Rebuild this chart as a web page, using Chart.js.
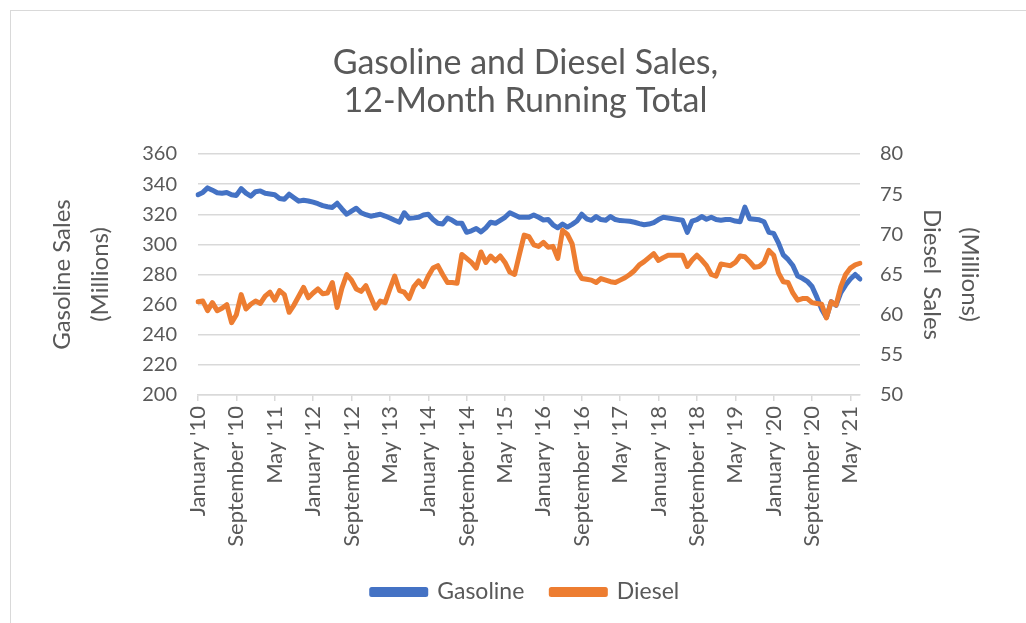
<!DOCTYPE html>
<html>
<head>
<meta charset="utf-8">
<script src="https://cdn.jsdelivr.net/npm/chart.js@4.4.1/dist/chart.umd.min.js"></script>
<style>
  body { margin: 0; background: #fff; }
  #wrap { position: relative; width: 1026px; height: 623px; }
</style>
</head>
<body>
<div id="wrap"><canvas id="salesChart"></canvas></div>
<script>
// months from January 2010 to July 2021
const monthNames = ['January', 'February', 'March', 'April', 'May', 'June', 'July',
    'August', 'September', 'October', 'November', 'December'];
const startYear = 2010;
const monthCount = 139;

const categories = [];
for (let i = 0; i < monthCount; i++) {
    const m = monthNames[i % 12];
    const yy = String(startYear + Math.floor(i / 12)).slice(2);
    categories.push(`${m} '${yy}`);
}

// Gasoline sales, millions (left axis)
const gasoline = [
    333, 334.5, 337.5, 336, 334.3, 334, 334.5, 333, 332.5, 337,
    334, 332, 335, 335.5, 334, 333.5, 333, 330.5, 330, 333.3,
    331, 328.7, 329.3, 328.8, 328, 327, 325.7, 325, 324.5, 327.3,
    323.5, 320, 322, 324, 321, 319.7, 318.7, 319.3, 320, 318.8,
    317.5, 316, 314.7, 321, 317.3, 317.6, 318, 319.5, 320, 316.5,
    314, 313.5, 317.5, 316, 314, 314, 308, 309, 310.5, 308.3,
    311, 314.7, 314, 316, 318, 321, 319.5, 318, 318, 318,
    319.5, 318, 316.2, 316.5, 313, 311, 313.5, 311.5, 313.3, 315.5,
    320, 317, 316, 318.5, 316.5, 316, 318.5, 316.5, 315.8, 315.6,
    315.3, 314.7, 313.8, 313, 313.5, 314.5, 316.5, 318, 317.5, 317,
    316.5, 316, 308, 315.5, 316.5, 318.5, 316.7, 318, 316.5, 316,
    316.5, 316.5, 315.5, 315, 324.7, 317, 316.7, 316.3, 315, 308,
    307.3, 301, 293, 290, 286, 279, 277.5, 275.5, 272, 265,
    257, 251.5, 262, 259.5, 268, 273, 277, 280, 277
];

// Diesel sales, millions (right axis)
const diesel = [
    61.6, 61.7, 60.5, 61.5, 60.5, 60.8, 61.25, 59, 60, 62.5,
    60.7, 61.3, 61.7, 61.4, 62.3, 62.8, 61.8, 63, 62.5, 60.3,
    61.2, 62.3, 63.4, 62.1, 62.7, 63.2, 62.6, 62.7, 64, 60.9,
    63.3, 65, 64.3, 63.2, 62.9, 63.6, 62.2, 60.8, 61.7, 61.5,
    63.2, 64.8, 63, 62.8, 62, 63.5, 64.2, 63.5, 64.8, 65.8,
    66.1, 65, 64, 64, 63.9, 67.5, 67, 66.5, 65.8, 67.8,
    66.5, 67.3, 66.7, 67.3, 66.5, 65.3, 65, 67.5, 69.9, 69.7,
    68.7, 68.5, 69, 68.4, 68.5, 67, 70.5, 70, 68.8, 65.5,
    64.5, 64.4, 64.3, 64, 64.5, 64.3, 64.1, 64, 64.3, 64.6,
    65, 65.5, 66.2, 66.6, 67.1, 67.6, 66.75, 67.1, 67.4, 67.4,
    67.4, 67.4, 66, 66.8, 67.4, 66.8, 66.1, 65, 64.8, 66.3,
    66.2, 66.1, 66.5, 67.3, 67.2, 66.6, 65.9, 66, 66.5, 68,
    67.4, 65.2, 64.1, 64, 62.7, 61.8, 62, 62, 61.5, 61.4,
    61.3, 59.6, 61.6, 61.2, 63.5, 65, 65.8, 66.2, 66.4
];

const gasolineTicks = [200, 220, 240, 260, 280, 300, 320, 340, 360];
const dieselTicks = [50, 55, 60, 65, 70, 75, 80];
const labelEvery = 8;

const textColor = '#595959';
const gridColor = '#d9d9d9';
const fontFamily = 'Lato, "Open Sans", sans-serif';

// light grey frame round the whole chart
const framePlugin = {
    id: 'frame',
    beforeDraw(chart) {
        const ctx = chart.ctx;
        ctx.save();
        ctx.fillStyle = '#fff';
        ctx.fillRect(0, 0, chart.width, chart.height);
        ctx.strokeStyle = gridColor;
        ctx.lineWidth = 1;
        ctx.strokeRect(10.5, 10.5, chart.width + 20, chart.height + 20);
        ctx.restore();
    }
};

const ctx = document.getElementById('salesChart').getContext('2d');
const chart = new Chart(ctx, {
    type: 'line',
    data: {
        labels: categories,
        datasets: [
            {
                label: 'Gasoline',
                data: gasoline,
                yAxisID: 'yGas',
                borderColor: '#4472C4',
                backgroundColor: '#4472C4',
                borderWidth: 5,
                pointRadius: 0,
                order: 1
            },
            {
                label: 'Diesel',
                data: diesel,
                yAxisID: 'yDiesel',
                borderColor: '#ED7D31',
                backgroundColor: '#ED7D31',
                borderWidth: 5,
                pointRadius: 0,
                order: 0
            }
        ]
    },
    options: {
        responsive: true,
        maintainAspectRatio: false,
        animation: false,
        layout: { padding: { left: 53, right: 28, top: 0, bottom: 9.5 } },
        elements: { line: { borderJoinStyle: 'round', borderCapStyle: 'round', tension: 0 } },
        plugins: {
            title: {
                display: true,
                text: ['Gasoline and Diesel Sales,', '12-Month Running Total'],
                color: textColor,
                font: { family: fontFamily, size: 34, weight: 'normal', lineHeight: 38 / 34 },
                padding: { top: 44, bottom: 34 }
            },
            legend: {
                position: 'bottom',
                labels: {
                    color: textColor,
                    font: { family: fontFamily, size: 23 },
                    boxWidth: 54,
                    boxHeight: 5,
                    padding: 27,
                    sort: (a, b) => a.datasetIndex - b.datasetIndex
                }
            },
            tooltip: { enabled: false }
        },
        scales: {
            x: {
                grid: {
                    drawOnChartArea: false,
                    drawTicks: true,
                    tickLength: 6,
                    offset: false,
                    lineWidth: 1.5,
                    color: c => (c.index % labelEvery === 0 ? gridColor : 'rgba(0,0,0,0)')
                },
                border: { color: gridColor, width: 1.5 },
                ticks: {
                    autoSkip: false,
                    minRotation: 90,
                    maxRotation: 90,
                    padding: 5,
                    color: textColor,
                    font: { family: fontFamily, size: 22 },
                    callback: (v, i) => (i % labelEvery === 0 ? categories[i] : '')
                },
                afterFit: s => { s.height = 158.5; }
            },
            yGas: {
                position: 'left',
                min: 200,
                max: 360,
                afterBuildTicks: s => { s.ticks = gasolineTicks.map(v => ({ value: v })); },
                grid: { color: gridColor, lineWidth: 1.5, drawTicks: false },
                border: { display: false },
                ticks: {
                    padding: 21,
                    color: textColor,
                    font: { family: fontFamily, size: 20 }
                },
                title: {
                    display: true,
                    text: ['Gasoline Sales', '(Millions)'],
                    color: textColor,
                    font: { family: fontFamily, size: 24, lineHeight: 38 / 24 },
                    padding: { top: -10 }
                },
                afterFit: s => { s.width = 145; }
            },
            yDiesel: {
                position: 'right',
                min: 50,
                max: 80,
                afterBuildTicks: s => { s.ticks = dieselTicks.map(v => ({ value: v })); },
                grid: { drawOnChartArea: false, drawTicks: false },
                border: { display: false },
                ticks: {
                    padding: 20,
                    color: textColor,
                    font: { family: fontFamily, size: 20 }
                },
                title: {
                    display: true,
                    text: ['(Millions)', 'Diesel  Sales'],
                    color: textColor,
                    font: { family: fontFamily, size: 24, lineHeight: 38 / 24 },
                    padding: { top: 9 }
                },
                afterFit: s => { s.width = 138; }
            }
        }
    },
    plugins: [framePlugin]
});
</script>
</body>
</html>
